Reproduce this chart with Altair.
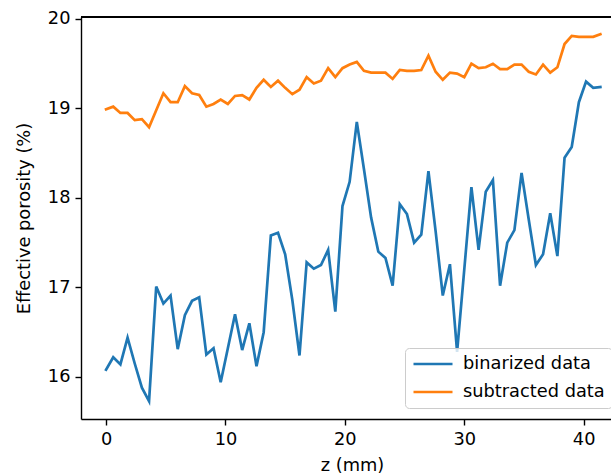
import altair as alt
import pandas as pd

z_mm = [0.0, 0.6, 1.2, 1.8, 2.4, 3.0, 3.6, 4.2, 4.8, 5.4,
        6.0, 6.6, 7.2, 7.8, 8.4, 9.0, 9.6, 10.2, 10.8, 11.4,
        12.0, 12.6, 13.2, 13.8, 14.4, 15.0, 15.6, 16.2, 16.8, 17.4,
        18.0, 18.6, 19.2, 19.8, 20.4, 21.0, 21.6, 22.2, 22.8, 23.4,
        24.0, 24.6, 25.2, 25.8, 26.4, 27.0, 27.6, 28.2, 28.8, 29.4,
        30.0, 30.6, 31.2, 31.8, 32.4, 33.0, 33.6, 34.2, 34.8, 35.4,
        36.0, 36.6, 37.2, 37.8, 38.4, 39.0, 39.6, 40.2, 40.8, 41.4]

binarized = [16.08, 16.22, 16.14, 16.44, 16.15, 15.88, 15.73, 17.01, 16.82, 16.91,
             16.31, 16.69, 16.85, 16.89, 16.25, 16.32, 15.94, 16.32, 16.70, 16.30,
             16.60, 16.12, 16.50, 17.58, 17.61, 17.37, 16.86, 16.24, 17.28, 17.21,
             17.25, 17.42, 16.73, 17.91, 18.18, 18.85, 18.32, 17.78, 17.40, 17.33,
             17.02, 17.93, 17.82, 17.50, 17.59, 18.30, 17.63, 16.91, 17.26, 16.28,
             17.20, 18.12, 17.42, 18.07, 18.20, 17.02, 17.50, 17.64, 18.28, 17.76,
             17.25, 17.37, 17.83, 17.35, 18.45, 18.57, 19.07, 19.30, 19.23, 19.24]

subtracted = [18.99, 19.02, 18.95, 18.95, 18.87, 18.88, 18.79, 18.98, 19.17, 19.07,
              19.07, 19.25, 19.17, 19.15, 19.02, 19.05, 19.10, 19.05, 19.14, 19.15,
              19.10, 19.23, 19.32, 19.24, 19.31, 19.23, 19.16, 19.21, 19.35, 19.28,
              19.31, 19.45, 19.35, 19.45, 19.49, 19.52, 19.42, 19.40, 19.40, 19.40,
              19.33, 19.43, 19.42, 19.42, 19.43, 19.59, 19.41, 19.32, 19.40, 19.39,
              19.35, 19.50, 19.45, 19.46, 19.50, 19.44, 19.44, 19.49, 19.49, 19.41,
              19.38, 19.49, 19.40, 19.46, 19.72, 19.81, 19.80, 19.80, 19.80, 19.83]

series_names = ["binarized data", "subtracted data"]
series_colors = ["#1f77b4", "#ff7f0e"]
x_ticks = [0, 10, 20, 30, 40]
y_ticks = [16, 17, 18, 19, 20]

df = pd.DataFrame({
    "z": z_mm + z_mm,
    "porosity": binarized + subtracted,
    "series": [series_names[0]] * len(z_mm) + [series_names[1]] * len(z_mm),
    "order": list(range(len(z_mm))) * 2,
})

FONT = "DejaVu Sans"
FS = 17.8
W, H = 530, 402

lines = alt.Chart(df).mark_line(strokeWidth=2.7, strokeCap="square").encode(
    x=alt.X("z:Q",
            scale=alt.Scale(domain=[-2.1, 42.29], nice=False, zero=False),
            axis=alt.Axis(values=x_ticks, format="d", title="z (mm)",
                          titleX=271, titleY=51, titleBaseline="alphabetic",
                          titleAnchor="middle", titleAlign="center")),
    y=alt.Y("porosity:Q",
            scale=alt.Scale(domain=[15.53, 20.022], nice=False, zero=False),
            axis=alt.Axis(values=y_ticks, format="d", title="Effective porosity (%)",
                          titleX=-52, titleY=H / 2, titleAngle=-90,
                          titleBaseline="alphabetic", titleAlign="center")),
    color=alt.Color("series:N",
                    scale=alt.Scale(domain=series_names, range=series_colors),
                    legend=alt.Legend(title=None, orient="none",
                                      legendX=324, legendY=331,
                                      symbolType="M-1,0H4.2", symbolSize=225,
                                      symbolStrokeWidth=2.7,
                                      labelFont=FONT, labelFontSize=FS,
                                      labelColor="#000000", labelOffset=33,
                                      fillColor="rgba(255,255,255,0.8)",
                                      strokeColor="#cccccc", cornerRadius=4,
                                      padding=7, rowPadding=10)),
    order="order:Q",
    detail="series:N",
)

top_spine = alt.Chart(df).mark_rule(color="#000000", strokeWidth=1.4).encode(
    x=alt.value(0), x2=alt.value(W), y=alt.value(0)
)

chart = alt.layer(lines, top_spine).properties(
    width=W, height=H,
    autosize=alt.AutoSizeParams(type="none"),
    padding={"left": 81, "top": 17, "right": 0, "bottom": 55},
).configure_view(
    stroke=None
).configure_axis(
    grid=False,
    domainColor="#000000", domainWidth=1.4,
    tickColor="#000000", tickWidth=1.4, tickSize=6,
    labelFont=FONT, labelFontSize=FS, labelColor="#000000", labelPadding=5,
    titleFont=FONT, titleFontSize=FS, titleColor="#000000", titleFontWeight="normal",
)

chart.save("out.html", embed_options={"renderer": "svg", "actions": False})
